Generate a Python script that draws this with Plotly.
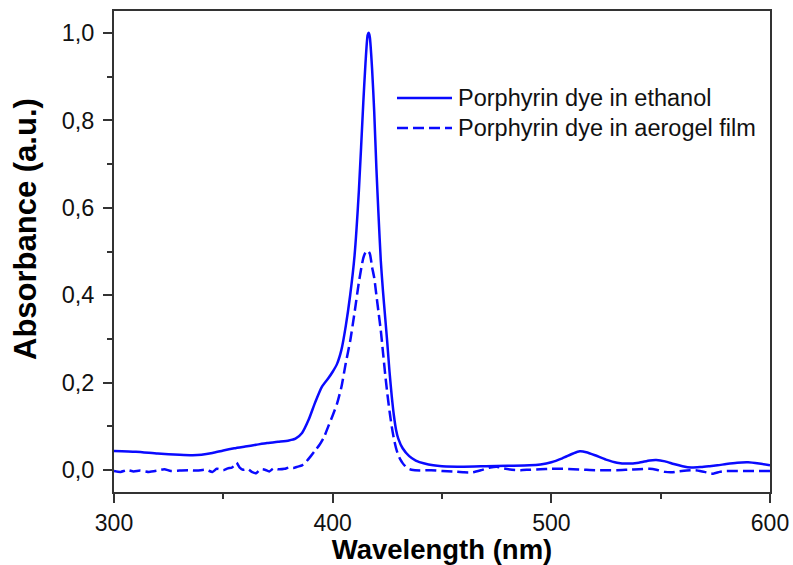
import plotly.graph_objects as go

# Porphyrin dye in ethanol (solid)
wl_ethanol = [300, 310, 320, 330, 336, 340, 345, 350, 355, 360, 365, 370, 375, 380, 383,
              386, 389, 392, 395, 398, 400, 402, 404, 406, 408, 410, 412, 414, 415, 416,
              416.5, 417, 418, 419, 420, 421, 422, 423, 424, 425, 426, 427, 428, 429, 430,
              432, 435, 438, 442, 446, 450, 460, 470, 480, 490, 495, 500, 505, 510, 513,
              516, 520, 525, 530, 535, 540, 545, 548, 552, 556, 560, 564, 568, 572, 576,
              580, 585, 590, 595, 600]
abs_ethanol = [0.044, 0.042, 0.038, 0.035, 0.034, 0.035, 0.039, 0.045, 0.050, 0.054, 0.058, 0.062, 0.065, 0.068, 0.072,
               0.085, 0.115, 0.155, 0.190, 0.210, 0.225, 0.243, 0.275, 0.330, 0.400, 0.490, 0.640, 0.840, 0.930, 0.995,
               1.000, 0.990, 0.920, 0.820, 0.690, 0.580, 0.480, 0.410, 0.350, 0.290, 0.225, 0.170, 0.125, 0.092, 0.072,
               0.050, 0.032, 0.022, 0.015, 0.011, 0.009, 0.008, 0.009, 0.010, 0.011, 0.013, 0.018, 0.027, 0.038, 0.043,
               0.041, 0.034, 0.024, 0.017, 0.015, 0.017, 0.022, 0.023, 0.020, 0.014, 0.009, 0.006, 0.007, 0.009, 0.011,
               0.014, 0.017, 0.018, 0.015, 0.011]

# Porphyrin dye in aerogel film (dashed)
wl_film = [300, 303, 306, 309, 312, 316, 320, 323, 326, 330, 334, 338, 342, 345, 347,
           350, 352, 354, 356, 357.5, 359, 361, 363, 365, 367, 369, 371, 373, 375, 378,
           380, 382, 384, 386, 388, 390, 392, 394, 396, 398, 400, 402, 404, 406, 408,
           410, 412, 414, 415, 416, 417, 418, 419, 420, 421, 422, 423, 424, 425, 426,
           427, 428, 429, 430, 431, 432, 433, 434, 436, 440, 445, 450, 455, 460, 464,
           468, 472, 475, 478, 482, 486, 490, 495, 500, 505, 510, 515, 520, 525, 530,
           535, 540, 545, 548, 552, 555, 558, 562, 566, 570, 574, 577, 580, 585, 590,
           595, 600]
abs_film = [-0.002, -0.004, 0.000, -0.003, -0.001, -0.004, -0.001, 0.002, -0.002, -0.001, 0.000, -0.001, 0.001, -0.004, 0.003,
            0.000, 0.004, 0.006, 0.017, 0.006, 0.001, 0.003, -0.004, -0.007, 0.002, 0.001, -0.003, 0.004, 0.002, 0.003,
            0.006, 0.005, 0.008, 0.011, 0.020, 0.032, 0.045, 0.058, 0.075, 0.100, 0.125, 0.152, 0.190, 0.245, 0.295,
            0.360, 0.430, 0.485, 0.498, 0.502, 0.495, 0.465, 0.440, 0.400, 0.360, 0.320, 0.270, 0.220, 0.175, 0.135,
            0.100, 0.072, 0.050, 0.034, 0.024, 0.016, 0.010, 0.005, 0.001, -0.001, 0.000, -0.002, -0.003, -0.005, -0.005,
            0.000, 0.006, 0.008, 0.004, 0.001, 0.000, 0.001, 0.002, 0.003, 0.003, 0.002, 0.001, 0.000, 0.000, 0.000,
            0.001, 0.002, 0.003, 0.001, -0.004, -0.005, -0.003, -0.001, 0.000, -0.004, -0.008, -0.004, -0.002, -0.002, -0.002,
            -0.002, -0.002]

series_names = ["Porphyrin dye in ethanol", "Porphyrin dye in aerogel film"]

x_ticks = [300, 400, 500, 600]
y_ticks = [0.0, 0.2, 0.4, 0.6, 0.8, 1.0]
y_tick_labels = ["0,0", "0,2", "0,4", "0,6", "0,8", "1,0"]

BLUE = "#0a0aff"
AXIS = "#333333"
FONT = "Liberation Sans, Arial, sans-serif"
DASH = "11px,5px"

W, H = 793, 565
ML, MR, MT, MB = 114, 23, 11, 73
PW, PH = W - ML - MR, H - MT - MB


def px_x(px):
    return (px - ML) / PW


def px_y(py):
    return (H - MB - py) / PH


fig = go.Figure()
fig.add_trace(go.Scatter(x=wl_ethanol, y=abs_ethanol, mode="lines", name=series_names[0],
                         line=dict(color=BLUE, width=2.5, shape="spline", smoothing=0.6)))
fig.add_trace(go.Scatter(x=wl_film, y=abs_film, mode="lines", name=series_names[1],
                         line=dict(color=BLUE, width=2.5, dash=DASH, shape="spline", smoothing=0.6)))

# legend drawn as line samples with text labels
legend_rows = [(98, "solid"), (128, DASH)]
for (ly, dash), name in zip(legend_rows, series_names):
    fig.add_shape(type="line", xref="paper", yref="paper",
                  x0=px_x(397), x1=px_x(452), y0=px_y(ly), y1=px_y(ly),
                  line=dict(color=BLUE, width=2.5, dash=dash))
    fig.add_annotation(xref="paper", yref="paper", x=px_x(456), y=px_y(ly),
                       xanchor="left", yanchor="middle", showarrow=False,
                       text=name, font=dict(family=FONT, size=23.5, color="#111111"))

fig.add_annotation(xref="paper", yref="paper", x=px_x(25), y=px_y(229),
                   xanchor="center", yanchor="middle", showarrow=False, textangle=-90,
                   text="<b>Absorbance (a.u.)</b>", font=dict(family=FONT, size=31, color="#000000"))

fig.update_layout(
    width=W, height=H,
    margin=dict(l=ML, r=MR, t=MT, b=MB, autoexpand=False),
    paper_bgcolor="white", plot_bgcolor="white",
    showlegend=False,
    font=dict(family=FONT, color="#111111"),
)
fig.update_xaxes(
    range=[300, 600], tickvals=x_ticks, ticktext=[str(v) for v in x_ticks],
    ticks="outside", ticklen=9, tickwidth=1.5, tickcolor=AXIS,
    minor=dict(ticks="outside", ticklen=5, tickwidth=1.5, tickcolor=AXIS, dtick=50, tick0=300),
    showline=True, linecolor=AXIS, linewidth=1.8, mirror=True,
    showgrid=False, zeroline=False, automargin=False,
    tickfont=dict(family=FONT, size=23, color="#111111"),
    title=dict(text="<b>Wavelength (nm)</b>", font=dict(family=FONT, size=27.5, color="#000000"), standoff=9),
)
fig.update_yaxes(
    range=[-0.05, 1.05], tickvals=y_ticks, ticktext=y_tick_labels,
    ticks="outside", ticklen=9, tickwidth=1.5, tickcolor=AXIS,
    minor=dict(ticks="outside", ticklen=5, tickwidth=1.5, tickcolor=AXIS, dtick=0.1, tick0=0),
    showline=True, linecolor=AXIS, linewidth=1.8, mirror=True,
    showgrid=False, zeroline=False, automargin=False,
    ticklabelstandoff=4,
    tickfont=dict(family=FONT, size=23.5, color="#111111"),
)

fig.write_html("out.html")
